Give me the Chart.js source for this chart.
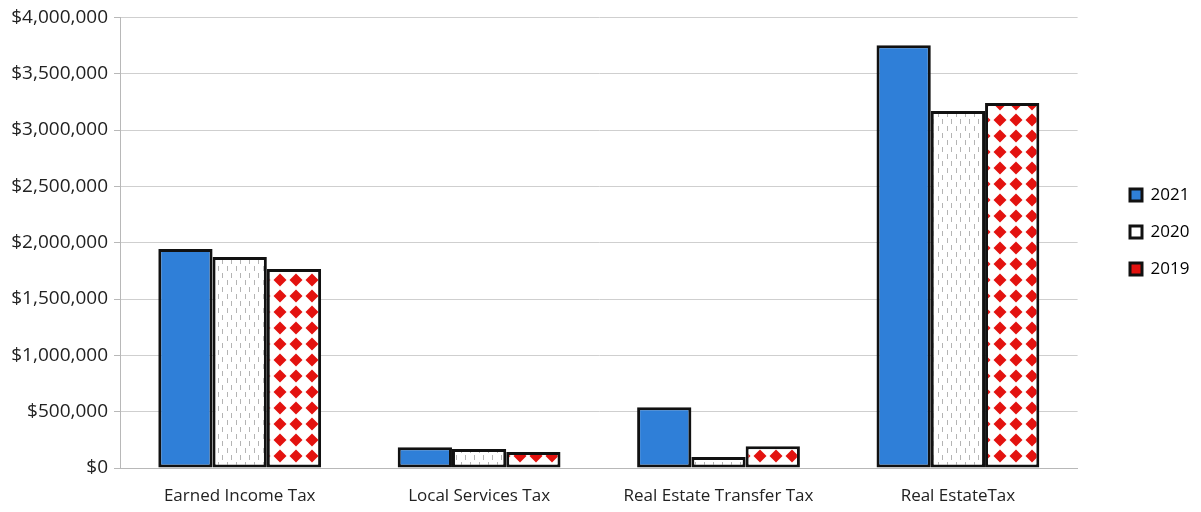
<!doctype html>
<html lang="en">
<head>
<meta charset="utf-8">
<title>Tax revenue</title>
<script src="https://cdn.jsdelivr.net/npm/chart.js"></script>
<style>
html, body { margin: 0; padding: 0; background: #fff; }
#wrap { width: 1201px; height: 512px; }
</style>
</head>
<body>
<div id="wrap"><canvas id="chart" width="1201" height="512"></canvas></div>
<script>
// Données
const categories = ['Earned Income Tax', 'Local Services Tax', 'Real Estate Transfer Tax', 'Real EstateTax'];
const years = ['2021', '2020', '2019'];
const values2021 = [1943000, 185000, 539000, 3753000];
const values2020 = [1872000, 168000, 97000, 3170000];
const values2019 = [1766000, 141000, 194000, 3240000];

// Motif pointillé gris (2020)
function dashPattern() {
  const c = document.createElement('canvas');
  c.width = 9; c.height = 14;
  const g = c.getContext('2d');
  g.fillStyle = '#fff';
  g.fillRect(0, 0, 9, 14);
  g.fillStyle = '#b4b4b4';
  g.fillRect(2, 0, 1, 5);
  g.fillRect(6, 7, 1, 5);
  return g.createPattern(c, 'repeat');
}

// Motif losanges rouges (2019)
function diamondPattern() {
  const c = document.createElement('canvas');
  c.width = 16; c.height = 16;
  const g = c.getContext('2d');
  g.fillStyle = '#fff';
  g.fillRect(0, 0, 16, 16);
  g.fillStyle = '#e3120f';
  g.beginPath();
  g.moveTo(8, 1.5);
  g.lineTo(14.5, 8);
  g.lineTo(8, 14.5);
  g.lineTo(1.5, 8);
  g.closePath();
  g.fill();
  return g.createPattern(c, 'repeat');
}

const fills = ['#2f7fd8', dashPattern(), diamondPattern()];
const legendFills = ['#2f7fd8', '#ffffff', '#e3120f'];
const series = [values2021, values2020, values2019];

const fontFamily = '"Open Sans", "Liberation Sans", sans-serif';

// Décale la légende vers la droite et un peu vers le haut
const legendShift = {
  id: 'legendShift',
  afterLayout(chart) {
    const lg = chart.legend;
    if (!lg) return;
    const dx = 1110 - lg.left;
    lg.left += dx;
    lg.right += dx;
    lg.top -= 25;
    lg.bottom -= 25;
  }
};

let config = {
  type: 'bar',
  data: {
    labels: categories,
    datasets: years.map((y, i) => ({
      label: y,
      data: series[i],
      backgroundColor: fills[i],
      borderColor: '#111',
      borderWidth: 3,
      borderSkipped: false,
      categoryPercentage: 0.68,
      barPercentage: 1.0
    }))
  },
  options: {
    responsive: false,
    animation: false,
    layout: { padding: { top: 4, right: 34, bottom: 2, left: 6 } },
    scales: {
      x: {
        grid: { display: false, drawTicks: false },
        border: { color: '#b8b8b8' },
        afterFit: scale => { scale.height = 42; },
        ticks: { color: '#222', padding: 18, font: { family: fontFamily, size: 17 } }
      },
      y: {
        min: 0,
        max: 4000000,
        grid: { color: '#cfcfcf', tickLength: 6, tickColor: '#b8b8b8' },
        border: { color: '#b8b8b8' },
        afterFit: scale => { scale.width = 114; },
        ticks: {
          stepSize: 500000,
          color: '#222',
          padding: 6,
          font: { family: fontFamily, size: 19 },
          callback: v => '$' + Number(v).toLocaleString('en-US')
        }
      }
    },
    plugins: {
      legend: {
        position: 'right',
        labels: {
          boxWidth: 12,
          boxHeight: 12,
          padding: 20,
          color: '#222',
          font: { family: fontFamily, size: 17 },
          generateLabels: chart => chart.data.datasets.map((ds, i) => ({
            text: ds.label,
            fillStyle: legendFills[i],
            strokeStyle: '#111',
            lineWidth: 3,
            hidden: false,
            datasetIndex: i
          }))
        }
      },
      tooltip: { enabled: false }
    }
  },
  plugins: [legendShift]
};

new Chart(document.getElementById('chart').getContext('2d'), config);
</script>
</body>
</html>
